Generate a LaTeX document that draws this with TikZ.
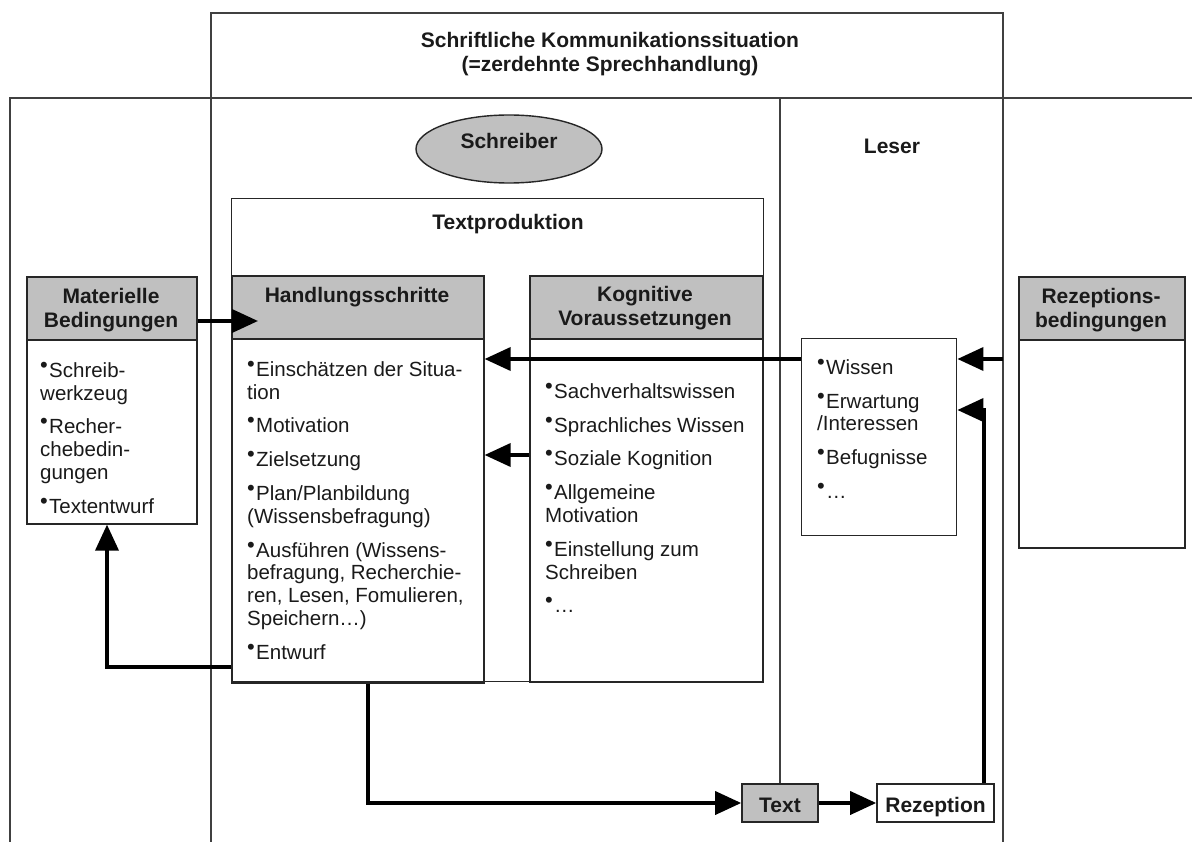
\documentclass[tikz,border=0pt]{standalone}
\usepackage{fontspec}
\setmainfont{Liberation Sans}
\usetikzlibrary{arrows.meta,shapes.geometric}
\definecolor{boxgray}{HTML}{C0C0C0}
\definecolor{ink}{HTML}{1A1A1A}
% raised bullet that leads each list entry
\newcommand\bul{\makebox[9pt][l]{\raisebox{5pt}{\fontsize{22}{22}\selectfont •}}}
% fixed first-line height, so a node's top gives a known baseline
\newcommand\fl{\rule{0pt}{16pt}}

\begin{document}
\begin{tikzpicture}[x=1pt,y=-1pt,
  frame/.style={line width=1.2pt, draw=black!75},
  panel/.style={rectangle, draw=black!85, line width=1.6pt, inner sep=0pt, anchor=north west},
  head/.style={panel, fill=boxgray},
  bold/.style={font=\fontsize{21}{24.5}\selectfont\bfseries, text=ink, inner sep=0pt},
  items/.style={font=\fontsize{20.5}{22.8}\selectfont, text=ink, inner sep=0pt, align=left, anchor=north west},
  flow/.style={line width=3.6pt, draw=black, -{Triangle[length=26pt,width=23pt]}},
]
\useasboundingbox (0,0) rectangle (1192,842);
\fill[white] (0,0) rectangle (1192,842);

% outer frames of the communication situation
\draw[frame] (211,842) -- (211,13) -- (1003,13) -- (1003,842);
\draw[frame] (10,842) -- (10,98) -- (1192,98);

\node[bold, align=center, anchor=north] (title) at (610,31)
  {\fl Schriftliche Kommunikationssituation\\(=zerdehnte Sprechhandlung)};

% writer and reader
\node[ellipse, draw=black!85, line width=1.4pt, fill=boxgray, minimum width=186pt,
      minimum height=68pt, inner sep=0pt, font=\fontsize{21}{24.5}\selectfont\bfseries,
      text=ink, text height=15pt, text depth=16pt] (schreiber) at (509,149) {Schreiber};
\node[bold, anchor=base] (leser) at (892,154) {Leser};

% text production frame
\node[panel, line width=1.4pt, minimum width=532pt, minimum height=483pt] (tp) at (231,198) {};
\node[bold, anchor=base] (tplabel) at (508,230) {Textproduktion};

% Handlungsschritte
\node[head, minimum width=252pt, minimum height=63pt] (hshead) at (231,275) {};
\node[panel, minimum width=252pt, minimum height=344pt] (hsbody) at (231,338) {};
\node[bold, anchor=base] (hstitle) at (357,303) {Handlungsschritte};
\node[items] (hsitems) at (247,360) {\fl\bul Einschätzen der Situa-\\tion\\[11pt]
  \bul Motivation\\[11pt]
  \bul Zielsetzung\\[11pt]
  \bul Plan/Planbildung\\(Wissensbefragung)\\[11pt]
  \bul Ausführen (Wissens-\\befragung, Recherchie-\\ren, Lesen, Fomulieren,\\Speichern…)\\[11pt]
  \bul Entwurf};

% Kognitive Voraussetzungen
\node[head, minimum width=233pt, minimum height=63pt] (kvhead) at (529,275) {};
\node[panel, minimum width=233pt, minimum height=343pt] (kvbody) at (529,338) {};
\node[bold, align=center, anchor=north] (kvtitle) at (645,285) {\fl Kognitive\\Voraussetzungen};
\node[items] (kvitems) at (545,382) {\fl\bul Sachverhaltswissen\\[11pt]
  \bul Sprachliches Wissen\\[11pt]
  \bul Soziale Kognition\\[11pt]
  \bul Allgemeine\\Motivation\\[11pt]
  \bul Einstellung zum\\Schreiben\\[11pt]
  \bul …};

% Materielle Bedingungen
\node[head, minimum width=170pt, minimum height=63pt] (mathead) at (26,276) {};
\node[panel, minimum width=170pt, minimum height=184pt] (matbody) at (26,339) {};
\node[bold, align=center, anchor=north] (mattitle) at (111,287) {\fl Materielle\\Bedingungen};
\node[items] (matitems) at (40,361) {\fl\bul Schreib-\\werkzeug\\[11pt]
  \bul Recher-\\chebedin-\\gungen\\[11pt]
  \bul Textentwurf};

% Rezeptionsbedingungen
\node[head, minimum width=166pt, minimum height=63pt] (rzhead) at (1018,276) {};
\node[panel, minimum width=166pt, minimum height=208pt] (rzbody) at (1018,339) {};
\node[bold, align=center, anchor=north] (rztitle) at (1101,287) {\fl Rezeptions-\\bedingungen};

% reader's prerequisites
\node[panel, line width=1.4pt, minimum width=155pt, minimum height=197pt] (lbox) at (801,338) {};
\node[items] (litems) at (817,358) {\fl\bul Wissen\\[11pt]
  \bul Erwartung\\/Interessen\\[11pt]
  \bul Befugnisse\\[11pt]
  \bul …};

% product and its reception
\node[head, bold, anchor=center, minimum width=76pt, minimum height=38pt, text height=18pt,
      text depth=0pt] (txt) at (780,803) {Text};
\node[panel, bold, anchor=center, minimum width=117pt, minimum height=38pt, text height=18pt,
      text depth=0pt] (rez) at (935.5,803) {Rezeption};

% divider between writer and reader side
\draw[frame] (txt.north |- 0,98) -- (txt.north);

% connectors
\coordinate (hsin) at (258,321);
\coordinate (rin) at (1003,359);
\draw[flow] (mathead.east |- hsin) -- (hsin);
\draw[flow] (rin) -- (lbox.east |- rin);
\draw[flow] (lbox.west |- rin) -- (hsbody.east |- rin);
\draw[flow] (kvbody.west |- 0,455) -- (hsbody.east |- 0,455);
\draw[flow] (rez.north -| 984,0) |- (lbox.east |- 0,410);
\draw[flow] (hsbody.west |- 0,667) -| (107,0 |- matbody.south);
\draw[flow] (hsbody.south -| 368,0) |- (txt.west);
\draw[flow] (txt.east) -- (rez.west);
\end{tikzpicture}
\end{document}
